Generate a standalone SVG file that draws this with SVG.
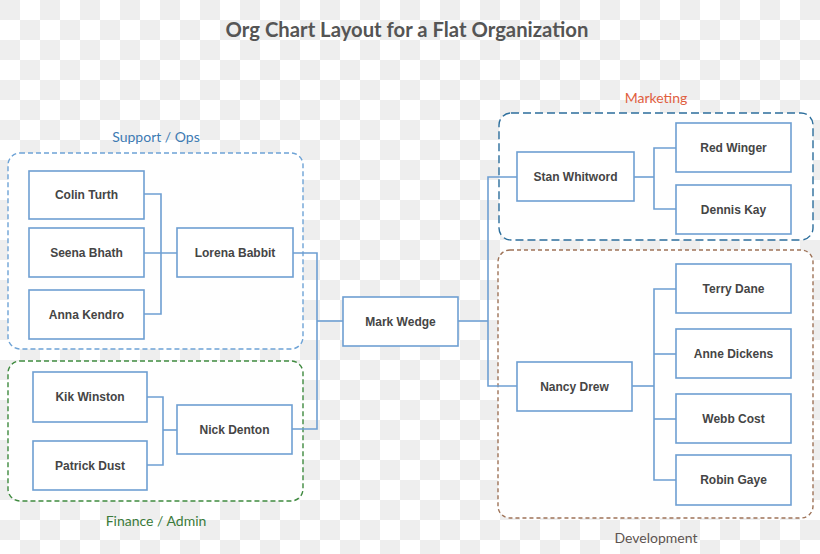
<svg xmlns="http://www.w3.org/2000/svg" width="820" height="554" viewBox="0 0 820 554">
<defs>
<pattern id="checker" x="0" y="0" width="40" height="40" patternUnits="userSpaceOnUse">
<rect width="40" height="40" fill="#ffffff"/>
<rect x="0" y="0" width="20" height="20" fill="#eeeeee"/>
<rect x="20" y="20" width="20" height="20" fill="#eeeeee"/>
</pattern>
<style>
.node rect{fill:#ffffff;stroke:#6e9fd2;stroke-width:1.6}
.node text{font-family:"Liberation Sans",Arial,sans-serif;font-weight:bold;font-size:12px;fill:#454545;text-anchor:middle;dominant-baseline:central}
.conn path{fill:none;stroke:#6e9fd2;stroke-width:1.6}
.grp{fill:#ffffff;fill-opacity:0.92;stroke-width:1.4}
.glabel{font-family:Lato,"Open Sans",sans-serif;font-size:14px;text-anchor:middle}
</style>
</defs>
<rect width="820" height="554" fill="url(#checker)"/>
<text x="407" y="37" style="font-family:Lato,'Open Sans',sans-serif;font-weight:bold;font-size:20.3px;fill:#555555;text-anchor:middle">Org Chart Layout for a Flat Organization</text>

<g id="groups">
<g id="grp-support">
<rect class="grp" x="8" y="153" width="295" height="196" rx="12" stroke="#6ea3d6" stroke-dasharray="5,3"/>
<text class="glabel" x="156" y="142" fill="#3d7bb3">Support / Ops</text>
</g>
<g id="grp-finance">
<rect class="grp" x="8" y="361" width="295" height="140" rx="12" stroke="#3f8a3f" stroke-dasharray="5,3"/>
<text class="glabel" x="156" y="526" fill="#3a7a3a">Finance / Admin</text>
</g>
<g id="grp-marketing">
<rect class="grp" x="499" y="113" width="314" height="127" rx="12" stroke="#2c6e9c" stroke-width="1.8" stroke-dasharray="8,4"/>
<text class="glabel" x="656" y="103" fill="#e0603f">Marketing</text>
</g>
<g id="grp-development">
<rect class="grp" x="498" y="250" width="315" height="268" rx="12" stroke="#9e7358" stroke-dasharray="4,3"/>
<text class="glabel" x="656" y="543" fill="#5d5450">Development</text>
</g>
</g>

<g id="connectors" class="conn">
<path d="M144,194 H161 V314 H144"/>
<path d="M144,253 H177"/>
<path d="M147,397 H163 V465 H147"/>
<path d="M163,430 H177"/>
<path d="M293,253 H317 V429 H292"/>
<path d="M317,321 H343"/>
<path d="M458,321 H488"/>
<path d="M517,177 H488 V386 H517"/>
<path d="M634,177 H654"/>
<path d="M676,148 H654 V209 H676"/>
<path d="M632,386 H654"/>
<path d="M676,289 H654 V480 H676"/>
<path d="M654,354 H676"/>
<path d="M654,419 H676"/>
</g>

<g id="colin-turth" class="node"><rect x="29" y="171" width="115" height="48"/><text x="86.5" y="195">Colin Turth</text></g>
<g id="seena-bhath" class="node"><rect x="29" y="228" width="115" height="49"/><text x="86.5" y="252.5">Seena Bhath</text></g>
<g id="anna-kendro" class="node"><rect x="29" y="290" width="115" height="49"/><text x="86.5" y="314.5">Anna Kendro</text></g>
<g id="lorena-babbit" class="node"><rect x="177" y="228" width="116" height="49"/><text x="235" y="252.5">Lorena Babbit</text></g>
<g id="kik-winston" class="node"><rect x="33" y="372" width="114" height="50"/><text x="90" y="397">Kik Winston</text></g>
<g id="patrick-dust" class="node"><rect x="33" y="441" width="114" height="49"/><text x="90" y="465.5">Patrick Dust</text></g>
<g id="nick-denton" class="node"><rect x="177" y="405" width="115" height="49"/><text x="234.5" y="429.5">Nick Denton</text></g>
<g id="mark-wedge" class="node"><rect x="343" y="297" width="115" height="49"/><text x="400.5" y="321.5">Mark Wedge</text></g>
<g id="stan-whitword" class="node"><rect x="517" y="152" width="117" height="49"/><text x="575.5" y="176.5">Stan Whitword</text></g>
<g id="red-winger" class="node"><rect x="676" y="123" width="115" height="49"/><text x="733.5" y="147.5">Red Winger</text></g>
<g id="dennis-kay" class="node"><rect x="676" y="185" width="115" height="49"/><text x="733.5" y="209.5">Dennis Kay</text></g>
<g id="nancy-drew" class="node"><rect x="517" y="362" width="115" height="49"/><text x="574.5" y="386.5">Nancy Drew</text></g>
<g id="terry-dane" class="node"><rect x="676" y="264" width="115" height="49"/><text x="733.5" y="288.5">Terry Dane</text></g>
<g id="anne-dickens" class="node"><rect x="676" y="329" width="115" height="49"/><text x="733.5" y="353.5">Anne Dickens</text></g>
<g id="webb-cost" class="node"><rect x="676" y="394" width="115" height="49"/><text x="733.5" y="418.5">Webb Cost</text></g>
<g id="robin-gaye" class="node"><rect x="676" y="455" width="115" height="50"/><text x="733.5" y="480">Robin Gaye</text></g>
</svg>
